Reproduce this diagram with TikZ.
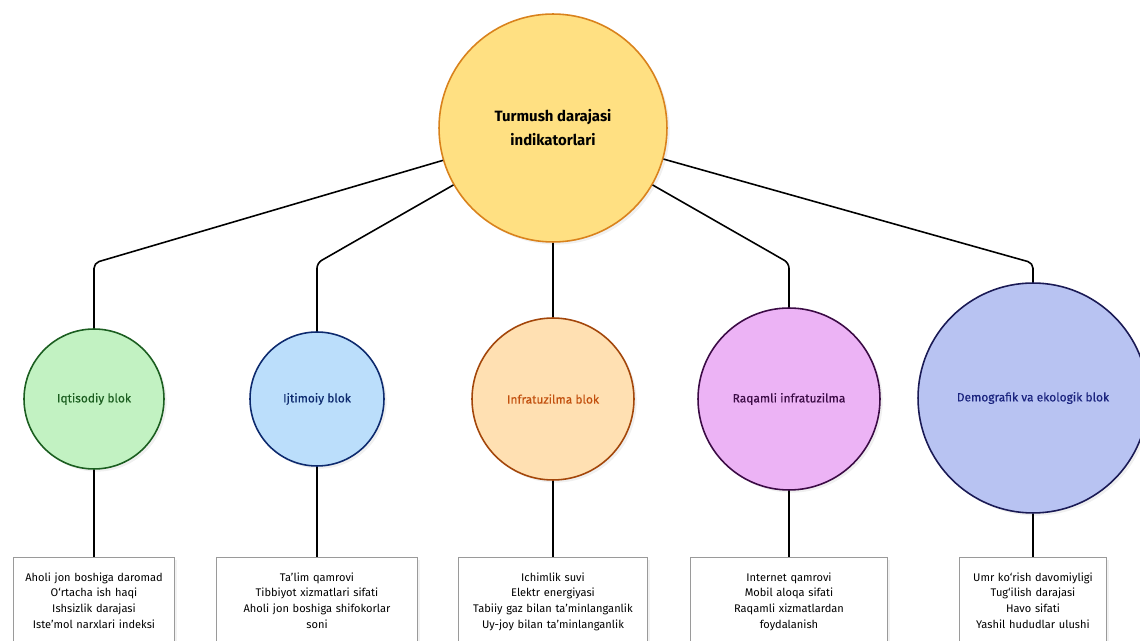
\documentclass[tikz,border=0pt]{standalone}
\usepackage{fontspec}
\setmainfont{Fira Sans}
\newfontfamily\medfont{Fira Sans}[FakeBold=0.35]
\usetikzlibrary{positioning,shadows}

\definecolor{topfill}{HTML}{FFE082}
\definecolor{topline}{HTML}{D9821C}
\definecolor{grfill}{HTML}{C2F2C2}
\definecolor{grline}{HTML}{1B5E20}
\definecolor{blfill}{HTML}{BBDEFB}
\definecolor{blline}{HTML}{0D2A6E}
\definecolor{orfill}{HTML}{FFE0B2}
\definecolor{orline}{HTML}{A3460A}
\definecolor{ortext}{HTML}{C2500E}
\definecolor{pufill}{HTML}{ECB3F5}
\definecolor{puline}{HTML}{3B0B45}
\definecolor{infill}{HTML}{B8C3F2}
\definecolor{inline}{HTML}{1A1A55}
\definecolor{intext}{HTML}{1A237E}
\definecolor{boxline}{HTML}{9A9A9A}

\begin{document}
\begin{tikzpicture}[x=0.02cm, y=-0.02cm,
    blok/.style={circle, draw, line width=0.9pt, inner sep=0pt, align=center,
        font=\fontsize{6.8}{9}\medfont,
        drop shadow={opacity=0.12, shadow xshift=1.5pt, shadow yshift=-1.5pt}},
    list/.style={draw=boxline, fill=white, line width=0.6pt, anchor=north, align=center,
        inner ysep=8.5pt, font=\fontsize{6.3}{8.9}\selectfont,
        drop shadow={opacity=0.1, shadow xshift=1.5pt, shadow yshift=-1.5pt}},
    edge/.style={line width=0.9pt, rounded corners=3pt}]
    \useasboundingbox (0,0) rectangle (1140,641);
    \clip (0,0) rectangle (1140,641);
    % Nodes
    \node (top) at (553,128) [blok, draw=topline, fill=topfill, minimum size=4.56cm,
        font=\fontsize{8.5}{13.6}\selectfont\bfseries] {Turmush darajasi\\indikatorlari};
    \node (c1) at (94,399) [blok, draw=grline, fill=grfill, text=grline, minimum size=2.8cm] {Iqtisodiy blok};
    \node (c2) at (317,399) [blok, draw=blline, fill=blfill, text=blline, minimum size=2.68cm] {Ijtimoiy blok};
    \node (c3) at (553,399) [blok, draw=orline, fill=orfill, text=ortext, minimum size=3.24cm] {Infratuzilma blok};
    \node (c4) at (789,399) [blok, draw=puline, fill=pufill, text=puline, minimum size=3.64cm] {Raqamli infratuzilma};
    \node (c5) at (1033,398) [blok, draw=inline, fill=infill, text=intext, minimum size=4.6cm] {Demografik va ekologik blok};
    % Lower nodes
    \node (b1) at (94,557) [list, text width=3.0cm] {Aholi jon boshiga daromad\\O‘rtacha ish haqi\\Ishsizlik darajasi\\Iste’mol narxlari indeksi};
    \node (b2) at (317,557) [list, text width=3.78cm] {Ta’lim qamrovi\\Tibbiyot xizmatlari sifati\\Aholi jon boshiga shifokorlar\\soni};
    \node (b3) at (553,557) [list, text width=3.56cm] {Ichimlik suvi\\Elektr energiyasi\\Tabiiy gaz bilan ta’minlanganlik\\Uy-joy bilan ta’minlanganlik};
    \node (b4) at (789,557) [list, text width=3.72cm] {Internet qamrovi\\Mobil aloqa sifati\\Raqamli xizmatlardan\\foydalanish};
    \node (b5) at (1033,557) [list, text width=2.7cm] {Umr ko‘rish davomiyligi\\Tug‘ilish darajasi\\Havo sifati\\Yashil hududlar ulushi};
    % Bends
    \coordinate (k1) at (94,263);
    \coordinate (k2) at (317,263);
    \coordinate (k4) at (789,263);
    \coordinate (k5) at (1033,263);
    % Edges
    \foreach \i in {1,2,4,5} {
        \draw[edge] (top) -- (k\i) -- (c\i);
    }
    \draw[edge] (top) -- (c3);
    \foreach \i in {1,...,5} {
        \draw[edge] (c\i) -- (b\i);
    }
\end{tikzpicture}
\end{document}
